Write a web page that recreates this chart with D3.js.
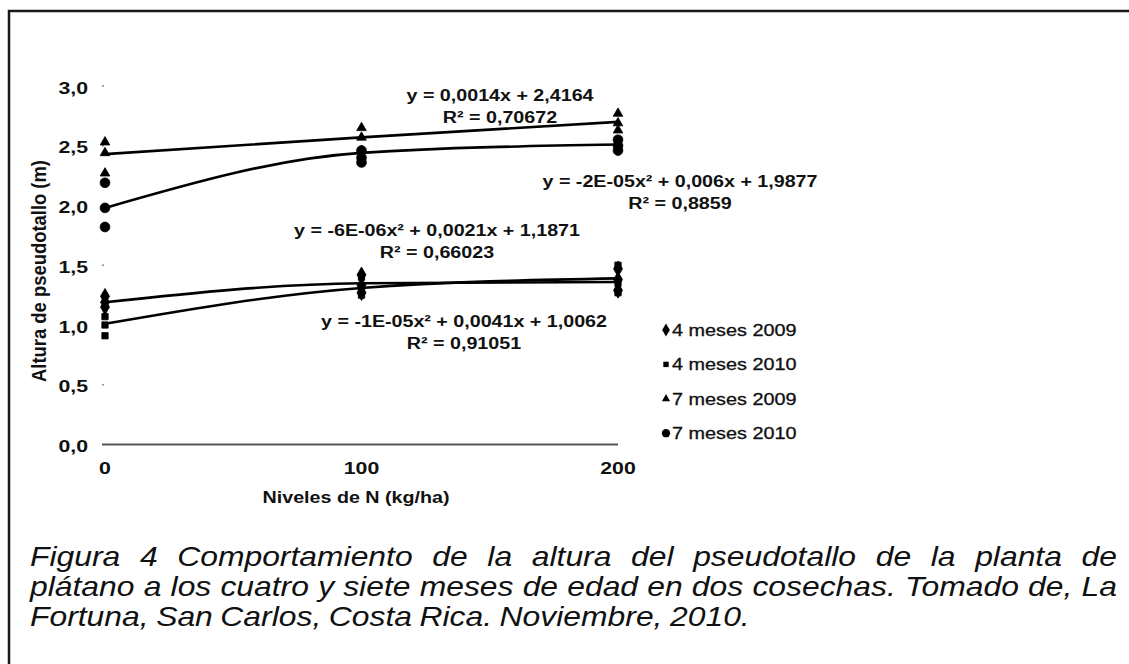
<!DOCTYPE html>
<html>
<head>
<meta charset="utf-8">
<script src="https://cdn.jsdelivr.net/npm/d3@7"></script>
<style>
    body { margin: 0; background: #fff; }
    svg { display: block; }
    text { font-family: "Liberation Sans", Arial, sans-serif; fill: #111; }
</style>
</head>
<body>
<svg id="chart" width="1129" height="664"></svg>
<script>
// niveles de N (kg/ha)
const nLevels = [0, 100, 200];
const yTicks = [0, 0.5, 1, 1.5, 2, 2.5, 3];
const seriesNames = ['4 meses 2009', '4 meses 2010', '7 meses 2009', '7 meses 2010'];

// observaciones, una lista por nivel de N
const obs4m2009 = [[1.24, 1.19, 1.15], [1.42, 1.33, 1.27], [1.47, 1.38, 1.29]];
const obs4m2010 = [[1.07, 1.00, 0.91], [1.40, 1.30, 1.25], [1.50, 1.35, 1.27]];
const obs7m2009 = [[2.53, 2.44, 2.27], [2.65, 2.57, 2.46], [2.77, 2.69, 2.63]];
const obs7m2010 = [[2.19, 1.98, 1.82], [2.46, 2.40, 2.36], [2.55, 2.50, 2.46]];

// lineas de tendencia en cada nivel
const trend4m2009 = [1.19, 1.35, 1.36];
const trend4m2010 = [1.01, 1.31, 1.39];
const trend7m2009 = [2.43, 2.57, 2.70];
const trend7m2010 = [1.98, 2.44, 2.51];

const equations = [
    ['y = 0,0014x + 2,4164', 'R\u00b2 = 0,70672'],
    ['y = -2E-05x\u00b2 + 0,006x + 1,9877', 'R\u00b2 = 0,8859'],
    ['y = -6E-06x\u00b2 + 0,0021x + 1,1871', 'R\u00b2 = 0,66023'],
    ['y = -1E-05x\u00b2 + 0,0041x + 1,0062', 'R\u00b2 = 0,91051']
];

const caption = [
    'Figura 4  Comportamiento de la altura del pseudotallo de la planta de',
    'pl\u00e1tano a los cuatro y siete meses de edad en dos cosechas. Tomado de, La',
    'Fortuna, San Carlos, Costa Rica. Noviembre, 2010.'
];

const svg = d3.select('#chart');

let x = d3.scaleLinear().domain([0, 200]).range([105, 618]);
let y = d3.scaleLinear().domain([0, 3]).range([444.5, 86]);

// marco
svg.append('path')
    .attr('d', 'M1140,11H9V680')
    .attr('fill', 'none')
    .attr('stroke', '#1a1a1a')
    .attr('stroke-width', 2.5);

// eje x
svg.append('line')
    .attr('x1', x(0) - 3).attr('x2', x(200))
    .attr('y1', y(0)).attr('y2', y(0))
    .attr('stroke', '#555').attr('stroke-width', 2);

svg.selectAll('.tdot').data(yTicks.filter(d => d > 0)).enter()
    .append('circle')
    .attr('cx', x(0) - 2).attr('cy', d => y(d)).attr('r', 1)
    .attr('fill', '#888');

svg.selectAll('.ylab').data(yTicks).enter()
    .append('text')
    .attr('transform', d => `translate(88,${y(d) + 7.5}) scale(1.33,1)`)
    .attr('text-anchor', 'end')
    .style('font-size', '16px').style('font-weight', 'bold')
    .text(d => d3.format('.1f')(d).replace('.', ','));

svg.selectAll('.xlab').data(nLevels).enter()
    .append('text')
    .attr('transform', d => `translate(${x(d)},474) scale(1.33,1)`)
    .attr('text-anchor', 'middle')
    .style('font-size', '16px').style('font-weight', 'bold')
    .text(d => d);

svg.append('text')
    .attr('transform', 'translate(356,503) scale(1.23,1)')
    .attr('text-anchor', 'middle')
    .style('font-size', '16px').style('font-weight', 'bold')
    .text('Niveles de N (kg/ha)');

svg.append('text')
    .attr('transform', 'translate(46,271) rotate(-90) scale(1,1.17)')
    .attr('text-anchor', 'middle')
    .attr('textLength', 222).attr('lengthAdjust', 'spacingAndGlyphs')
    .style('font-size', '17px').style('font-weight', 'bold')
    .text('Altura de pseudotallo (m)');

// tendencias
let line = d3.line()
    .x((d, i) => x(nLevels[i]))
    .y(d => y(d))
    .curve(d3.curveMonotoneX);

[trend7m2009, trend7m2010, trend4m2009, trend4m2010].forEach(function (t) {
    svg.append('path')
        .attr('d', line(t))
        .attr('fill', 'none')
        .attr('stroke', '#000')
        .attr('stroke-width', 2.6);
});

// puntos
const symbols = [
    d3.symbol().type(d3.symbolDiamond).size(70),
    d3.symbol().type(d3.symbolSquare).size(40),
    d3.symbol().type(d3.symbolTriangle).size(40),
    d3.symbol().type(d3.symbolCircle).size(75)
];
[obs4m2009, obs4m2010, obs7m2009, obs7m2010].forEach(function (obs, s) {
    let pts = [];
    obs.forEach((vals, i) => vals.forEach(v => pts.push([nLevels[i], v])));
    svg.selectAll('.p' + s).data(pts).enter()
        .append('path')
        .attr('d', symbols[s]())
        .attr('transform', d => `translate(${x(d[0])},${y(d[1])})`)
        .attr('fill', '#000')
        .attr('stroke', '#000').attr('stroke-width', 0.8);
});

// ecuaciones
const eqPos = [[500, 101], [680, 187], [437, 236], [464, 327]];
equations.forEach(function (eq, i) {
    eq.forEach(function (t, j) {
        svg.append('text')
            .attr('transform', `translate(${eqPos[i][0]},${eqPos[i][1] + j * 22}) scale(1.23,1)`)
            .attr('text-anchor', 'middle')
            .style('font-size', '16px').style('font-weight', 'bold')
            .text(t);
    });
});

// leyenda
seriesNames.forEach(function (name, i) {
    let cy = 330 + i * 34.4;
    svg.append('path')
        .attr('d', symbols[i]())
        .attr('transform', `translate(666,${cy}) scale(0.85)`)
        .attr('fill', '#000');
    svg.append('text')
        .attr('transform', `translate(672,${cy + 6}) scale(1.24,1)`)
        .style('font-size', '16px')
        .style('stroke', '#111').style('stroke-width', 0.3)
        .text(name);
});

// pie de figura, justificado
const capSx = 1.18;
function captionLine(str, yPos, x0, x1) {
    let words = str.split(/\s+/);
    let nodes = words.map(w => svg.append('text')
        .style('font-size', '27px').style('font-style', 'italic')
        .text(w));
    let widths = nodes.map(n => n.node().getComputedTextLength() * capSx);
    let gap = x1 ? (x1 - x0 - d3.sum(widths)) / (words.length - 1) : 7.5;
    let cx = x0;
    nodes.forEach(function (n, i) {
        n.attr('transform', `translate(${cx},${yPos}) scale(${capSx},1)`);
        cx += widths[i] + gap;
    });
}
captionLine(caption[0], 566, 30, 1117);
captionLine(caption[1], 596, 30, 1117);
captionLine(caption[2], 626, 30, null);
</script>
</body>
</html>
